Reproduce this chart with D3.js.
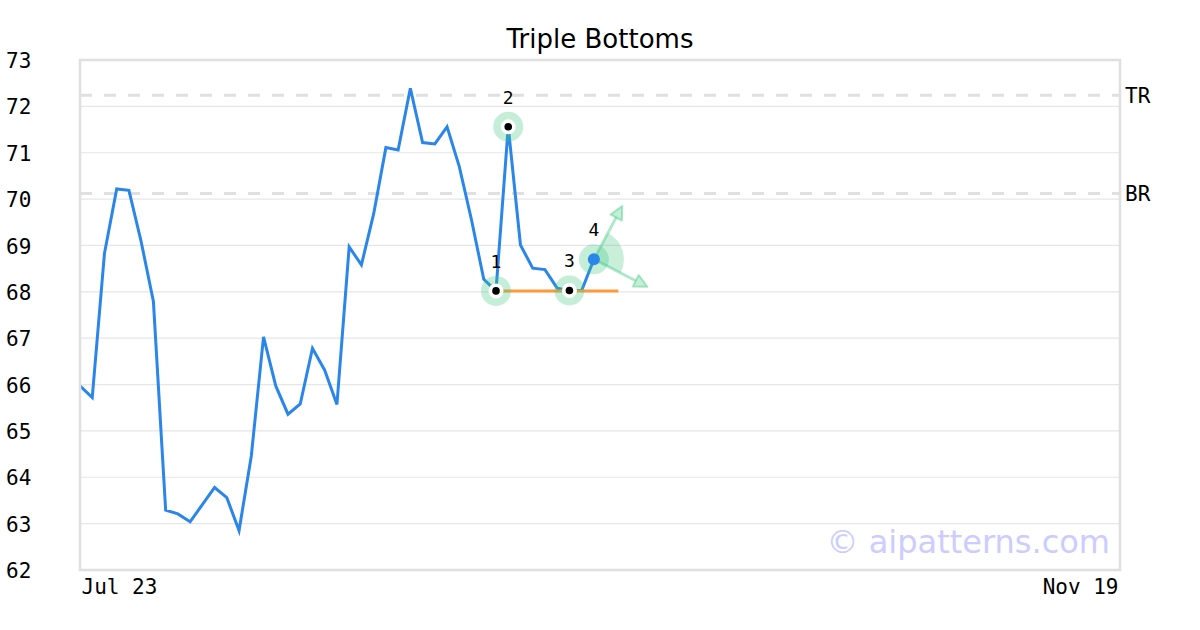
<!DOCTYPE html>
<html>
<head>
<meta charset="utf-8">
<script src="https://cdn.jsdelivr.net/npm/d3@7/dist/d3.min.js"></script>
<style>
  html, body { margin: 0; padding: 0; background: #fff; }
  svg { display: block; }
</style>
</head>
<body>
<svg id="chart" width="1200" height="630"></svg>
<script>
// ---- data ----
const title = "Triple Bottoms";
const xLabels = ["Jul 23", "Nov 19"];
const slotCount = 86; // trading-day slots between first and last label
const prices = [
  65.97, 65.72, 68.83, 70.22, 70.19, 69.08, 67.79, 63.29, 63.21, 63.04,
  63.41, 63.78, 63.56, 62.85, 64.46, 67.03, 65.97, 65.36, 65.58, 66.78,
  66.31, 65.57, 68.97, 68.58, 69.68, 71.11, 71.06, 72.39, 71.22, 71.19,
  71.56, 70.70, 69.55, 68.27, 68.02, 71.56, 69.01, 68.51, 68.48, 68.08,
  68.03, 68.03, 68.70
];
const yTicks = [62, 63, 64, 65, 66, 67, 68, 69, 70, 71, 72, 73];
const levelNames = ["TR", "BR"];
const levelValues = [72.24, 70.12];
const pivotIdx = [34, 35, 40];
const pivotLabels = ["1", "2", "3"];
const breakoutIdx = 42;
const breakoutLabel = "4";
const supportStart = 34, supportEnd = 44, supportValue = 68.02;
const arrowTipIdx = [44.32, 46.37];
const arrowTipVal = [69.85, 68.11];
const watermark = "© aipatterns.com";

// ---- layout ----
const svg = d3.select("#chart");
const L = 80, R = 1120, T = 60, B = 570;
const x = d3.scaleLinear().domain([0, slotCount - 1]).range([L, R]);
const y = d3.scaleLinear().domain([62, 73]).range([B, T]);
const mono = "'DejaVu Sans Mono', monospace";
const sans = "'DejaVu Sans', sans-serif";

// title
svg.append("text").attr("x", 600).attr("y", 48).attr("text-anchor", "middle")
  .attr("font-family", sans).attr("font-size", 26).attr("fill", "#000").text(title);

// gridlines
svg.append("g").selectAll("line").data(yTicks.filter(v => v > 62 && v < 73)).join("line")
  .attr("x1", L).attr("x2", R).attr("y1", d => y(d)).attr("y2", d => y(d))
  .attr("stroke", "#e6e6e6").attr("stroke-width", 1.2);

// level dashed lines
svg.append("g").selectAll("line").data(levelValues).join("line")
  .attr("x1", L).attr("x2", R).attr("y1", d => y(d)).attr("y2", d => y(d))
  .attr("stroke", "#e0e0e0").attr("stroke-width", 3).attr("stroke-dasharray", "12,12");
svg.append("g").selectAll("text").data(levelNames).join("text")
  .attr("x", R + 5).attr("y", (d, i) => y(levelValues[i]))
  .attr("dy", "0.36em").attr("font-family", mono).attr("font-size", 21).attr("fill", "#000").text(d => d);

// y axis labels
const yAxis = d3.axisLeft(y).tickValues(yTicks).tickSize(0).tickPadding(0);
const yg = svg.append("g").attr("transform", "translate(6,0)").call(yAxis);
yg.select(".domain").remove();
yg.selectAll("text").attr("text-anchor", "start").attr("x", 0).attr("dy", "0.36em")
  .attr("font-family", mono).attr("font-size", 21).attr("fill", "#000");

// x labels
const xAxis = d3.axisBottom(x).tickValues([0, slotCount - 1]).tickFormat((d, i) => xLabels[i]).tickSize(0).tickPadding(0);
const xg = svg.append("g").attr("transform", `translate(0,${B})`).call(xAxis);
xg.select(".domain").remove();
xg.selectAll("text").attr("y", 24).attr("dy", 0)
  .attr("text-anchor", (d, i) => i === 0 ? "start" : "end")
  .attr("dx", (d, i) => i === 0 ? 1 : -2)
  .attr("font-family", mono).attr("font-size", 21).attr("fill", "#000");

// watermark
svg.append("text").attr("x", 1110).attr("y", 553).attr("text-anchor", "end")
  .attr("font-family", sans).attr("font-size", 32).attr("fill", "#ccccff").text(watermark);

// price line
const line = d3.line().x((d, i) => x(i)).y(d => y(d));
svg.append("path").datum(prices).attr("d", line).attr("fill", "none")
  .attr("stroke", "#2a86e8").attr("stroke-width", 3).attr("stroke-linejoin", "miter");

// support line
svg.append("line").attr("x1", x(supportStart)).attr("x2", x(supportEnd))
  .attr("y1", y(supportValue)).attr("y2", y(supportValue))
  .attr("stroke", "#ff9a3c").attr("stroke-width", 3);

// breakout wedge + arrows
const bx = x(breakoutIdx), by = y(prices[breakoutIdx]);
const green = "#3cc77f";
const angs = arrowTipIdx.map((ix, i) => Math.atan2(y(arrowTipVal[i]) - by, x(ix) - bx));
const arc = d3.arc().innerRadius(0).outerRadius(30)
  .startAngle(angs[0] + Math.PI / 2).endAngle(angs[1] + Math.PI / 2);
svg.append("path").attr("d", arc()).attr("transform", `translate(${bx},${by})`)
  .attr("fill", green).attr("fill-opacity", 0.28);
svg.append("circle").attr("cx", bx).attr("cy", by).attr("r", 15)
  .attr("fill", green).attr("fill-opacity", 0.3);
arrowTipIdx.forEach((ix, i) => {
  const tx = x(ix), ty = y(arrowTipVal[i]);
  const a = Math.atan2(ty - by, tx - bx);
  const hl = 13, hw = 6.5;
  const baseX = tx - hl * Math.cos(a), baseY = ty - hl * Math.sin(a);
  svg.append("line").attr("x1", bx).attr("y1", by).attr("x2", baseX).attr("y2", baseY)
    .attr("stroke", green).attr("stroke-opacity", 0.42).attr("stroke-width", 2.8);
  const pts = [[tx, ty],
    [baseX + hw * Math.sin(a), baseY - hw * Math.cos(a)],
    [baseX - hw * Math.sin(a), baseY + hw * Math.cos(a)]];
  svg.append("polygon").attr("points", pts.map(p => p.join(",")).join(" "))
    .attr("fill", green).attr("fill-opacity", 0.3)
    .attr("stroke", green).attr("stroke-opacity", 0.42).attr("stroke-width", 2).attr("stroke-linejoin", "round");
});
svg.append("circle").attr("cx", bx).attr("cy", by).attr("r", 6).attr("fill", "#2a86e8");
svg.append("text").attr("x", bx).attr("y", by - 23).attr("text-anchor", "middle")
  .attr("font-family", mono).attr("font-size", 18).attr("fill", "#000").text(breakoutLabel);

// pivots
const pv = svg.append("g").selectAll("g").data(pivotIdx).join("g")
  .attr("transform", d => `translate(${x(d)},${y(prices[d])})`);
pv.append("circle").attr("r", 15).attr("fill", green).attr("fill-opacity", 0.3);
pv.append("circle").attr("r", 7.5).attr("fill", "#fff");
pv.append("circle").attr("r", 3.8).attr("fill", "#000");
pv.append("text").attr("y", -23).attr("text-anchor", "middle")
  .attr("font-family", mono).attr("font-size", 18).attr("fill", "#000").text((d, i) => pivotLabels[i]);

// plot frame
svg.append("rect").attr("x", L).attr("y", T).attr("width", R - L).attr("height", B - T)
  .attr("fill", "none").attr("stroke", "#e0e0e0").attr("stroke-width", 2.6);
</script>
</body>
</html>
